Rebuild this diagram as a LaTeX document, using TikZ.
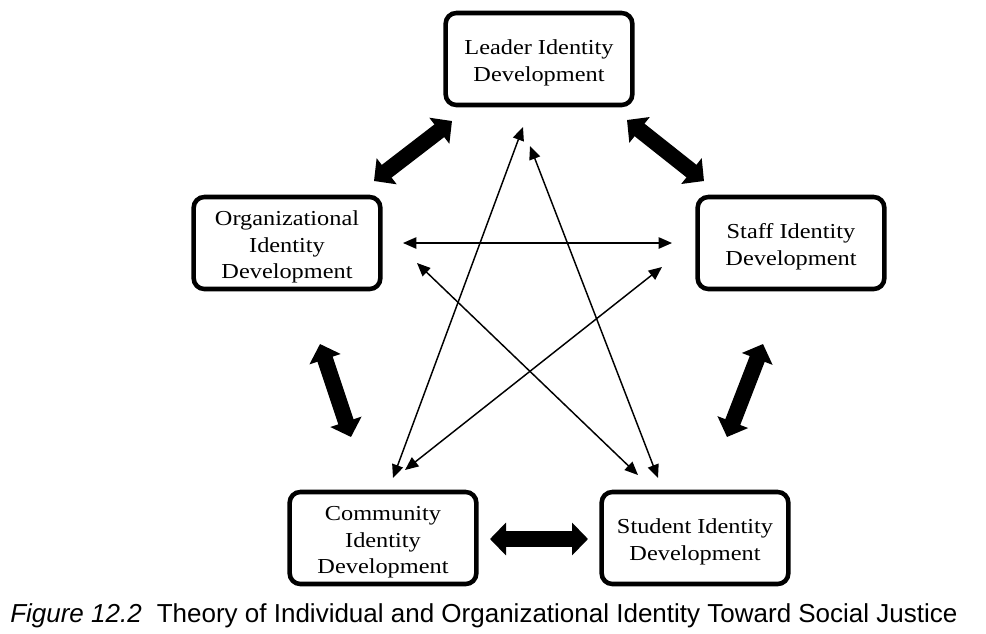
\documentclass[tikz,border=0pt]{standalone}
\usepackage{fontspec}
\setmainfont{Liberation Serif}[FakeStretch=1.14]
\newfontfamily\capfont{Liberation Sans}
\usetikzlibrary{arrows.meta}
\newcommand\tstrut{\rule{0pt}{17pt}}
\tikzset{
  idbox/.style={draw, line width=3.4pt, rounded corners=8pt, minimum width=140pt, minimum height=69pt, align=center, inner sep=0pt, font=\fontsize{16}{20}\selectfont},
  blockarrow/.style={line width=12pt, {Triangle[length=12pt,width=24pt]}-{Triangle[length=12pt,width=24pt]}},
  thinarrow/.style={line width=1.1pt, {Triangle[length=10pt,width=8.5pt]}-{Triangle[length=10pt,width=8.5pt]}}
}
\begin{document}
\begin{tikzpicture}[x=0.75pt,y=-0.75pt]
\useasboundingbox (0,0) rectangle (986,633);
\node[idbox] (leader) at (539,59) {\tstrut Leader Identity\\Development};
\node[idbox] (org) at (287,243) {\tstrut Organizational\\Identity\\Development};
\node[idbox] (staff) at (791,243) {\tstrut Staff Identity\\Development};
\node[idbox] (comm) at (383,538) {\tstrut Community\\Identity\\Development};
\node[idbox] (stud) at (695,538) {\tstrut Student Identity\\Development};
% block arrow end points
\coordinate (lo1) at (452,121); \coordinate (lo2) at (374,181);
\coordinate (ls1) at (627,120); \coordinate (ls2) at (704,181);
\coordinate (oc1) at (320,344); \coordinate (oc2) at (351,437);
\coordinate (ss1) at (763,344); \coordinate (ss2) at (727,437);
\coordinate (cs1) at (490,539); \coordinate (cs2) at (588,539);
\draw[blockarrow] (lo1) -- (lo2);
\draw[blockarrow] (ls1) -- (ls2);
\draw[blockarrow] (oc1) -- (oc2);
\draw[blockarrow] (ss1) -- (ss2);
\draw[blockarrow] (cs1) -- (cs2);
% thin arrow end points
\coordinate (la) at (523,127); \coordinate (ca) at (393,478);
\coordinate (lb) at (530,146); \coordinate (sb) at (658,478);
\coordinate (oc) at (417,263); \coordinate (sc) at (638,475);
\coordinate (sd) at (662,267); \coordinate (cd) at (405,470);
\coordinate (oe) at (403,243); \coordinate (se) at (672,243);
\draw[thinarrow] (la) -- (ca);
\draw[thinarrow] (lb) -- (sb);
\draw[thinarrow] (oc) -- (sc);
\draw[thinarrow] (sd) -- (cd);
\draw[thinarrow] (oe) -- (se);
\node[anchor=base west, inner sep=0pt, font=\capfont\fontsize{19.5}{22}\selectfont] (cap) at (10,622) {\textit{Figure 12.2}\hspace{0.3em} Theory of Individual and Organizational Identity Toward Social Justice};
\end{tikzpicture}
\end{document}
